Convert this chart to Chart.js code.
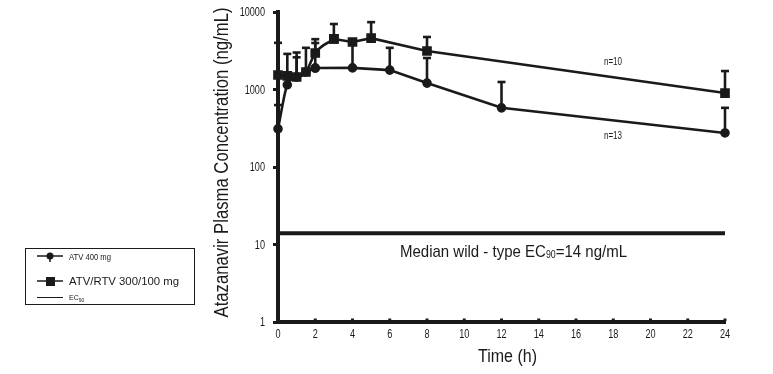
<!DOCTYPE html>
<html><head><meta charset="utf-8">
<script src="https://cdn.jsdelivr.net/npm/chart.js@4"></script>
<style>html,body{margin:0;padding:0;background:#fff;} #wrap{width:773px;height:374px;position:relative}</style>
</head><body><div id="wrap"><canvas id="c" width="773" height="374" style="width:773px;height:374px"></canvas></div>
<script>
// ---- data ----
const timeRTV = [0, 0.5, 1, 1.5, 2, 3, 4, 5, 8, 24];
const concRTV = [1540, 1500, 1450, 1680, 2960, 4490, 4100, 4600, 3140, 900];
const errTopRTV = [4000, null, 3000, 3450, 4460, 7000, null, 7400, 4760, 1730];
const timeATV = [0, 0.5, 1, 1.5, 2, 4, 6, 8, 12, 24];
const concATV = [310, 1150, 1450, 1680, 1890, 1900, 1780, 1210, 580, 275];
const errTopATV = [630, 2880, 2600, null, 3980, 4200, 3450, 2550, 1250, 580];
const ec90Value = 14;
const ec90Range = [0, 24];
const xTickValues = [0, 2, 4, 6, 8, 10, 12, 14, 16, 18, 20, 22, 24];
const xTickLabels = ['0', '2', '4', '6', '8', '10', '12', '14', '16', '18', '20', '22', '24'];
const yTickValues = [1, 10, 100, 1000, 10000];
const yTickLabels = ['1', '10', '100', '1000', '10000'];
const legendLabels = ['ATV 400 mg', 'ATV/RTV 300/100 mg', 'EC'];
const nLabels = [{t: 17.5, v: 2270, text: 'n=10'}, {t: 17.5, v: 251, text: 'n=13'}];
const ec90Text = ['Median wild - type EC', '90', '=14 ng/mL'];
const xTitle = 'Time (h)';
const yTitle = 'Atazanavir Plasma Concentration (ng/mL)';
const ATV_CURVE_END = 4;   // index where ATV curve becomes straight segments
const RTV_CURVE_END = 5;

const FONT = "'Liberation Sans', Arial, sans-serif";
const INK = '#1a1a1a';

const pts = (xs, ys, a, b) => xs.map((x, i) => ({x, y: ys[i]})).slice(a, b);

// condensed text helper: sx = horizontal squeeze
function ctext(ctx, txt, x, y, size, align, sx) {
  ctx.save();
  ctx.translate(x, y);
  ctx.scale(sx, 1);
  ctx.font = size + 'px ' + FONT;
  ctx.textAlign = align;
  ctx.fillText(txt, 0, 0);
  ctx.restore();
}
function fitX(ctx, txt, size, width) {
  ctx.font = size + 'px ' + FONT;
  return width / ctx.measureText(txt).width;
}

const extras = {
  id: 'extras',
  afterDatasetsDraw(chart) {
    const {ctx, scales: {x, y}} = chart;
    ctx.save();
    ctx.strokeStyle = INK; ctx.fillStyle = INK; ctx.lineWidth = 2.6; ctx.lineCap = 'butt';
    const bars = (xs, ys, tops) => {
      xs.forEach((t, i) => {
        if (tops[i] == null) return;
        const px = x.getPixelForValue(t), py = y.getPixelForValue(ys[i]), pt = y.getPixelForValue(tops[i]);
        ctx.beginPath(); ctx.moveTo(px, py); ctx.lineTo(px, pt); ctx.stroke();
        ctx.beginPath(); ctx.moveTo(px - 4, pt); ctx.lineTo(px + 4, pt); ctx.stroke();
      });
    };
    bars(timeRTV, concRTV, errTopRTV);
    bars(timeATV, concATV, errTopATV);

    ctx.textBaseline = 'alphabetic';
    // tick labels
    yTickValues.forEach((v, i) => ctext(ctx, yTickLabels[i], 265, y.getPixelForValue(v) + 4, 12, 'right', 0.76));
    xTickValues.forEach((v, i) => ctext(ctx, xTickLabels[i], x.getPixelForValue(v), 338, 12, 'center', 0.76));
    // small x ticks (bumps above axis)
    xTickValues.forEach(v => { const px = x.getPixelForValue(v); ctx.fillRect(px - 1.5, 318.5, 3, 2.5); });

    // n labels
    ctx.textBaseline = 'middle';
    nLabels.forEach(n => ctext(ctx, n.text, x.getPixelForValue(n.t), y.getPixelForValue(n.v), 10, 'left', fitX(ctx, n.text, 10, 18)));
    ctx.textBaseline = 'alphabetic';

    // EC90 annotation (fit to 227px)
    ctx.font = '17px ' + FONT;
    const w1 = ctx.measureText(ec90Text[0]).width, w3 = ctx.measureText(ec90Text[2]).width;
    ctx.font = '10px ' + FONT;
    const w2 = ctx.measureText(ec90Text[1]).width;
    const s = 227 / (w1 + w2 + w3);
    ctx.save();
    ctx.translate(400, 257); ctx.scale(s, 1);
    ctx.textAlign = 'left';
    ctx.font = '17px ' + FONT; ctx.fillText(ec90Text[0], 0, 0);
    ctx.font = '10px ' + FONT; ctx.fillText(ec90Text[1], w1, 1);
    ctx.font = '17px ' + FONT; ctx.fillText(ec90Text[2], w1 + w2, 0);
    ctx.restore();

    // axis titles
    ctext(ctx, xTitle, 507.5, 362, 18, 'center', fitX(ctx, xTitle, 18, 59));
    ctx.save();
    ctx.translate(228, 162.5);
    ctx.rotate(-Math.PI / 2);
    ctext(ctx, yTitle, 0, 0, 21, 'center', fitX(ctx, yTitle, 21, 310));
    ctx.restore();

    // legend box
    ctx.lineWidth = 1; ctx.strokeStyle = INK;
    ctx.strokeRect(25.5, 248.5, 169, 56);
    // item 1
    ctx.lineWidth = 1.5;
    ctx.beginPath(); ctx.moveTo(37, 256); ctx.lineTo(63, 256); ctx.stroke();
    ctx.beginPath(); ctx.arc(50, 256, 3.5, 0, Math.PI * 2); ctx.fill();
    ctx.beginPath(); ctx.moveTo(50, 256); ctx.lineTo(50, 262); ctx.stroke();
    ctext(ctx, legendLabels[0], 69, 259.5, 9, 'left', fitX(ctx, legendLabels[0], 9, 42));
    // item 2
    ctx.beginPath(); ctx.moveTo(37, 281); ctx.lineTo(63, 281); ctx.stroke();
    ctx.fillRect(46, 277, 9, 9);
    ctext(ctx, legendLabels[1], 69, 285, 11.5, 'left', fitX(ctx, legendLabels[1], 11.5, 110));
    // item 3
    ctx.lineWidth = 1;
    ctx.beginPath(); ctx.moveTo(37, 297.5); ctx.lineTo(63, 297.5); ctx.stroke();
    ctext(ctx, legendLabels[2], 69, 300, 7, 'left', 1.0);
    ctx.font = '7px ' + FONT;
    const ew = ctx.measureText(legendLabels[2]).width;
    ctext(ctx, '90', 69 + ew, 302, 5, 'left', 1.0);
    ctx.restore();
  }
};

const lineBase = { showLine: true, borderColor: INK, backgroundColor: INK, borderWidth: 2.6, clip: false };

new Chart(document.getElementById('c'), {
  type: 'scatter',
  data: {
    datasets: [
      Object.assign({ label: 'ATV 400 mg (early)', data: pts(timeATV, concATV, 0, ATV_CURVE_END + 1),
        pointStyle: 'circle', pointRadius: 3.5, cubicInterpolationMode: 'monotone' }, lineBase),
      Object.assign({ label: 'ATV 400 mg', data: pts(timeATV, concATV, ATV_CURVE_END),
        pointStyle: 'circle', pointRadius: 3.5, tension: 0 }, lineBase),
      Object.assign({ label: 'ATV/RTV 300/100 mg (early)', data: pts(timeRTV, concRTV, 0, RTV_CURVE_END + 1),
        pointStyle: 'rect', pointRadius: 5, cubicInterpolationMode: 'monotone' }, lineBase),
      Object.assign({ label: 'ATV/RTV 300/100 mg', data: pts(timeRTV, concRTV, RTV_CURVE_END),
        pointStyle: 'rect', pointRadius: 5, tension: 0 }, lineBase),
      { label: 'EC90', data: ec90Range.map(t => ({x: t, y: ec90Value})), showLine: true, borderColor: INK,
        borderWidth: 4, pointRadius: 0 }
    ]
  },
  options: {
    responsive: false, animation: false, devicePixelRatio: 1,
    layout: { padding: { left: 0, top: 12, right: 48, bottom: 0 } },
    plugins: { legend: { display: false }, tooltip: { enabled: false } },
    scales: {
      x: {
        type: 'linear', min: 0, max: 24,
        afterFit: s => { s.height = 52; },
        afterBuildTicks: s => { s.ticks = xTickValues.map(v => ({value: v})); },
        ticks: { display: false },
        grid: { display: false },
        border: { display: true, color: INK, width: 4 }
      },
      y: {
        type: 'logarithmic', min: 1, max: 10000,
        afterFit: s => { s.width = 278; },
        afterBuildTicks: s => { s.ticks = yTickValues.map(v => ({value: v, major: true})); },
        ticks: { display: false },
        grid: { drawOnChartArea: false, drawTicks: true, tickLength: 5, color: INK, lineWidth: 3 },
        border: { display: true, color: INK, width: 4 }
      }
    }
  },
  plugins: [extras]
});
</script></body></html>
